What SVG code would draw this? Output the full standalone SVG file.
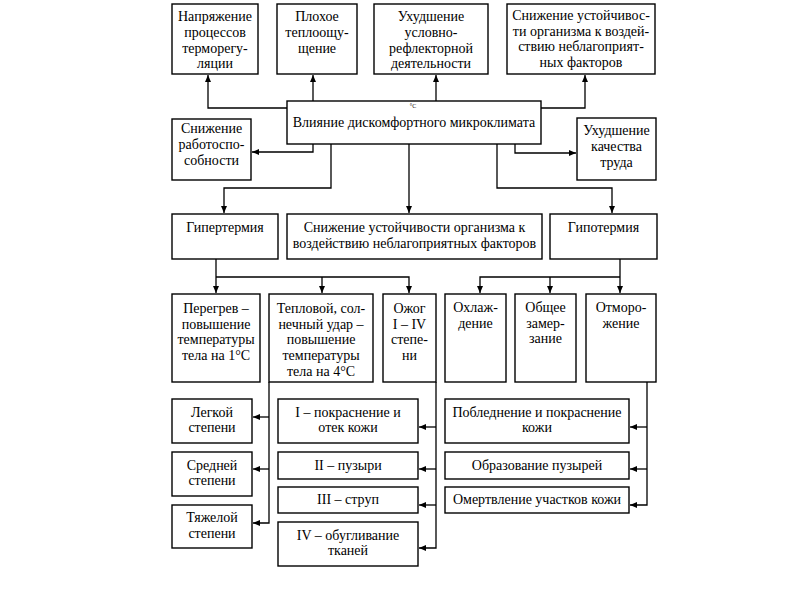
<svg xmlns="http://www.w3.org/2000/svg" width="800" height="600" viewBox="0 0 800 600">
<style>
.b{fill:#fff;stroke:#000;stroke-width:1.4}
.t{font-family:"Liberation Serif","Times New Roman",serif;font-size:14px;fill:#000;text-anchor:middle}
.c{fill:none;stroke:#000;stroke-width:1.3}
</style>
<defs>
<marker id="a" markerUnits="userSpaceOnUse" markerWidth="8" markerHeight="8" viewBox="0 0 8 8" refX="7" refY="4" orient="auto">
<path d="M0,1 L7,4 L0,7 z" fill="#000"/>
</marker>
</defs>
<rect width="800" height="600" fill="#fff"/>
<g id="connectors" class="c">
<path d="M287,108 H208 V75" marker-end="url(#a)"/>
<path d="M313,101 V75" marker-end="url(#a)"/>
<path d="M436,101 V75" marker-end="url(#a)"/>
<path d="M541,108 H585 V75" marker-end="url(#a)"/>
<path d="M313,144 V152 H252" marker-end="url(#a)"/>
<path d="M515,144 V153 H576" marker-end="url(#a)"/>
<path d="M331,144 V188 H224 V213" marker-end="url(#a)"/>
<path d="M409,144 V213" marker-end="url(#a)"/>
<path d="M497,144 V188 H612 V213" marker-end="url(#a)"/>
<path d="M216,259 V293" marker-end="url(#a)"/>
<path d="M216,277 H409 V293" marker-end="url(#a)"/>
<path d="M322,277 V293" marker-end="url(#a)"/>
<path d="M620,259 V293" marker-end="url(#a)"/>
<path d="M620,277 H480 V293" marker-end="url(#a)"/>
<path d="M550,277 V293" marker-end="url(#a)"/>
<path d="M269,382 V523 H253" marker-end="url(#a)"/>
<path d="M269,417 H253" marker-end="url(#a)"/>
<path d="M269,469 H253" marker-end="url(#a)"/>
<path d="M436,382 V548 H419" marker-end="url(#a)"/>
<path d="M436,427 H419" marker-end="url(#a)"/>
<path d="M436,469 H419" marker-end="url(#a)"/>
<path d="M436,505 H419" marker-end="url(#a)"/>
<path d="M647,382 V505 H630" marker-end="url(#a)"/>
<path d="M647,427 H630" marker-end="url(#a)"/>
<path d="M647,469 H630" marker-end="url(#a)"/>
</g>
<g id="n_napr"><rect class="b" x="172" y="4" width="86" height="70"/>
<text class="t" x="215" y="21">Напряжение</text><text class="t" x="215" y="37">процессов</text><text class="t" x="215" y="52.5">терморегу-</text><text class="t" x="215" y="68">ляции</text></g>
<g id="n_ploh"><rect class="b" x="277" y="4" width="80" height="70"/>
<text class="t" x="317" y="21">Плохое</text><text class="t" x="317" y="37">теплоощу-</text><text class="t" x="317" y="52.5">щение</text></g>
<g id="n_uhud"><rect class="b" x="374" y="4" width="114" height="70"/>
<text class="t" x="431" y="21">Ухудшение</text><text class="t" x="431" y="37">условно-</text><text class="t" x="431" y="52.5">рефлекторной</text><text class="t" x="431" y="68">деятельности</text></g>
<g id="n_sniz1"><rect class="b" x="507" y="4" width="148" height="70"/>
<text class="t" x="581" y="20">Снижение устойчивос-</text><text class="t" x="581" y="35.5">ти организма к воздей-</text><text class="t" x="581" y="51">ствию неблагоприят-</text><text class="t" x="581" y="67">ных факторов</text></g>
<g id="n_main"><rect class="b" x="287" y="101" width="254" height="43"/>
<text class="t" x="413" y="108" style="font-size:6px">°C</text>
<text class="t" x="414" y="127">Влияние дискомфортного микроклимата</text></g>
<g id="n_rab"><rect class="b" x="172" y="119" width="79" height="61"/>
<text class="t" x="211.5" y="133">Снижение</text><text class="t" x="211.5" y="149">работоспо-</text><text class="t" x="211.5" y="165">собности</text></g>
<g id="n_kach"><rect class="b" x="577" y="118" width="79" height="62"/>
<text class="t" x="616.5" y="135">Ухудшение</text><text class="t" x="616.5" y="151">качества</text><text class="t" x="616.5" y="167">труда</text></g>
<g id="n_giper"><rect class="b" x="172" y="214" width="106" height="45"/>
<text class="t" x="225" y="232">Гипертермия</text></g>
<g id="n_sniz2"><rect class="b" x="287" y="214" width="255" height="45"/>
<text class="t" x="414.5" y="232">Снижение устойчивости организма к</text><text class="t" x="414.5" y="248">воздействию неблагоприятных факторов</text></g>
<g id="n_gipo"><rect class="b" x="550" y="214" width="107" height="45"/>
<text class="t" x="603.5" y="232">Гипотермия</text></g>
<g id="n_pereg"><rect class="b" x="172" y="294" width="88" height="88"/>
<text class="t" x="216" y="313">Перегрев –</text><text class="t" x="216" y="328.5">повышение</text><text class="t" x="216" y="344">температуры</text><text class="t" x="216" y="360">тела на 1°C</text></g>
<g id="n_tepl"><rect class="b" x="269" y="294" width="104" height="88"/>
<text class="t" x="321" y="313">Тепловой, сол-</text><text class="t" x="321" y="328.5">нечный удар  –</text><text class="t" x="321" y="344">повышение</text><text class="t" x="321" y="360">температуры</text><text class="t" x="321" y="376">тела на 4°C</text></g>
<g id="n_ozhog"><rect class="b" x="383" y="294" width="53" height="88"/>
<text class="t" x="409.5" y="313">Ожог</text><text class="t" x="409.5" y="328.5">I – IV</text><text class="t" x="409.5" y="344">степе-</text><text class="t" x="409.5" y="360">ни</text></g>
<g id="n_ohl"><rect class="b" x="445" y="294" width="61" height="88"/>
<text class="t" x="475.5" y="312">Охлаж-</text><text class="t" x="475.5" y="327.5">дение</text></g>
<g id="n_zam"><rect class="b" x="515" y="294" width="61" height="88"/>
<text class="t" x="545.5" y="312">Общее</text><text class="t" x="545.5" y="327.5">замер-</text><text class="t" x="545.5" y="342.5">зание</text></g>
<g id="n_otm"><rect class="b" x="586" y="294" width="70" height="88"/>
<text class="t" x="621" y="312">Отморо-</text><text class="t" x="621" y="327.5">жение</text></g>
<g id="n_legk"><rect class="b" x="172" y="399" width="80" height="44"/>
<text class="t" x="212" y="417">Легкой</text><text class="t" x="212" y="432">степени</text></g>
<g id="n_sred"><rect class="b" x="172" y="452" width="80" height="44"/>
<text class="t" x="212" y="470">Средней</text><text class="t" x="212" y="485">степени</text></g>
<g id="n_tyazh"><rect class="b" x="172" y="505" width="80" height="43"/>
<text class="t" x="212" y="522">Тяжелой</text><text class="t" x="212" y="538">степени</text></g>
<g id="n_b1"><rect class="b" x="278" y="399" width="140" height="44"/>
<text class="t" x="348" y="417">I – покраснение и</text><text class="t" x="348" y="432">отек кожи</text></g>
<g id="n_b2"><rect class="b" x="278" y="452" width="140" height="27"/>
<text class="t" x="348" y="470">II – пузыри</text></g>
<g id="n_b3"><rect class="b" x="278" y="487" width="140" height="26"/>
<text class="t" x="348" y="504">III – струп</text></g>
<g id="n_b4"><rect class="b" x="278" y="522" width="140" height="44"/>
<text class="t" x="348" y="540">IV – обугливание</text><text class="t" x="348" y="555">тканей</text></g>
<g id="n_f1"><rect class="b" x="445" y="399" width="184" height="44"/>
<text class="t" x="537" y="417">Побледнение и покраснение</text><text class="t" x="537" y="432">кожи</text></g>
<g id="n_f2"><rect class="b" x="445" y="452" width="184" height="27"/>
<text class="t" x="537" y="470">Образование пузырей</text></g>
<g id="n_f3"><rect class="b" x="445" y="487" width="184" height="26"/>
<text class="t" x="537" y="504">Омертвление участков кожи</text></g>
</svg>
